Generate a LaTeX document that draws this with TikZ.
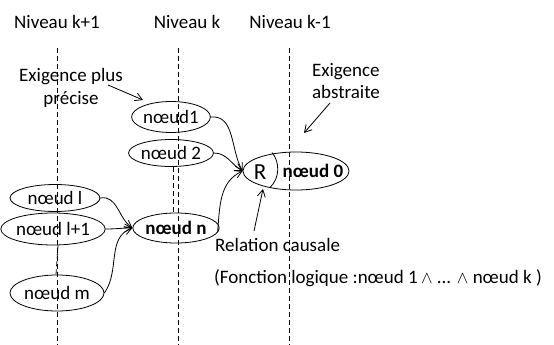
\documentclass[tikz,border=0pt]{standalone}
\usepackage{fontspec}
\setmainfont{Carlito}
\usetikzlibrary{shapes.geometric,arrows.meta,calc}
\begin{document}
\begin{tikzpicture}[x=1pt,y=-1pt,
  every node/.style={font=\fontsize{19}{21}\selectfont},
  nd/.style={draw,ellipse,inner sep=0pt,line width=0.8pt},
  lvl/.style={line width=0.8pt, dash pattern=on 5pt off 3pt},
  arr/.style={-{Straight Barb[length=7pt,width=8pt]},line width=0.8pt},
  lbl/.style={inner sep=0pt}]
\useasboundingbox (0,0) rectangle (554,345);
% level lines
\coordinate (t1) at (57,48); \coordinate (b1) at (57,345);
\coordinate (t2) at (178,48); \coordinate (b2) at (178,345);
\coordinate (t3) at (289,48); \coordinate (b3) at (289,345);
\draw[lvl] (t1) -- (b1);
\draw[lvl] (t2) -- (b2);
\draw[lvl] (t3) -- (b3);
% titles
\node[lbl] (h1) at (57,22) {Niveau k+1};
\node[lbl] (h2) at (187,22) {Niveau k};
\node[lbl] (h3) at (290,22) {Niveau k-1};
% nodes
\node[nd,minimum width=75pt,minimum height=31pt] (n1) at (171,117) {nœud1};
\node[nd,minimum width=75pt,minimum height=27pt] (n2) at (171,153) {nœud 2};
\node[nd,minimum width=78pt,minimum height=30pt] (nn) at (176,228) {\textbf{nœud n}};
\node[nd,minimum width=90pt,minimum height=27pt] (nl) at (55,198) {nœud l};
\node[nd,minimum width=94pt,minimum height=32pt] (nl1) at (53,229) {nœud l+1};
\node[nd,minimum width=94pt,minimum height=36pt] (nm) at (57,293) {nœud m};
\node[nd,minimum width=106pt,minimum height=38pt] (n0) at (296,171) {};
\node[lbl,font=\fontsize{23}{25}\selectfont] (r) at (260,172) {R};
\node[lbl] (n0t) at (313,171) {\textbf{nœud 0}};
\draw[line width=0.8pt] (272,152.5) .. controls (280,162) and (280,178) .. (270,187.5);
% dashed connections
\draw[lvl] ($(n2.south)+(2,0)$) -- ($(nn.north)+(-3,0)$);
\draw[lvl] ($(nl1.south)+(5,0)$) -- ($(nm.north)+(-1,0)$);
% arrows
\draw[arr] (n1.east) to[out=5,in=120] (n0.west);
\draw[arr] (n2.east) to[out=0,in=150] (n0.west);
\draw[arr] ($(nn.east)+(-2,4)$) to[out=85,in=205] (n0.west);
\draw[arr] (nl.east) to[out=10,in=145] (nn.west);
\draw[arr] (nl1.east) to[out=0,in=180] (nn.west);
\draw[arr] (nm.east) to[out=55,in=200] (nn.west);
% labels
\node[lbl,align=center] (ep) at (71,88) {Exigence plus\\[2pt]précise};
\node[lbl,align=left] (ea) at (346,81) {Exigence\\[1pt]abstraite};
\node[lbl,anchor=west] (rc) at (215,245) {Relation causale};
\node[lbl,anchor=west] (fl) at (214,278) {(Fonction logique :nœud 1\,$\wedge$ ... $\wedge$ nœud k )};
\coordinate (ep1) at (108,85); \coordinate (ep2) at (143,100);
\coordinate (ea1) at (330,103); \coordinate (ea2) at (304,133);
\coordinate (rc1) at (254,231); \coordinate (rc2) at (263,189);
\draw[arr] (ep1) -- (ep2);
\draw[arr] (ea1) -- (ea2);
\draw[arr] (rc1) -- (rc2);
\end{tikzpicture}
\end{document}
